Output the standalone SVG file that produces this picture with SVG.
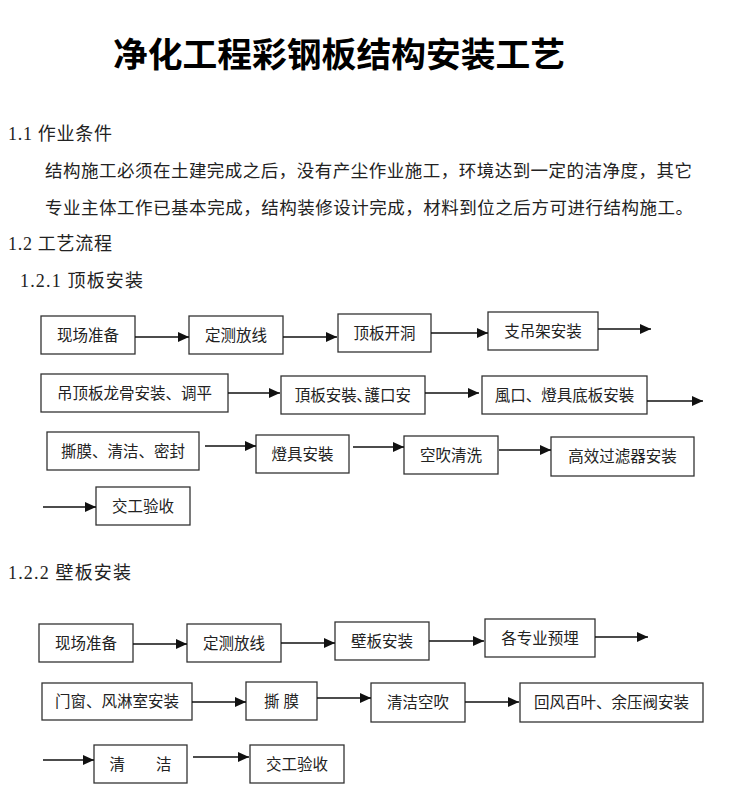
<svg xmlns="http://www.w3.org/2000/svg" width="750" height="804" viewBox="0 0 750 804">
<style>
.bg{fill:#fff}
.t{font-family:"Liberation Serif","Noto Sans CJK SC",serif;fill:#222}
.title{font-family:"Noto Sans CJK SC",sans-serif;font-weight:bold;font-size:34px;fill:#000}
.h{font-size:18px}
.p{font-size:17.5px}
.box rect{fill:#fff;stroke:#333;stroke-width:1.3}
.box text{font-family:"Liberation Serif","Noto Sans CJK SC",serif;font-size:15.5px;fill:#222;text-anchor:middle;white-space:pre}
.conn line{stroke:#111;stroke-width:1.5;marker-end:url(#ah)}
</style>
<defs>
<marker id="ah" markerUnits="userSpaceOnUse" markerWidth="12" markerHeight="10" refX="11" refY="5" orient="auto">
<path d="M0,0 L11,5 L0,10 Z" fill="#111"/>
</marker>
</defs>
<rect class="bg" x="0" y="0" width="750" height="804"/>
<text class="title" x="113" y="67" textLength="452" lengthAdjust="spacingAndGlyphs">净化工程彩钢板结构安装工艺</text>
<text class="t h" x="8" y="140" textLength="104" lengthAdjust="spacing">1.1 作业条件</text>
<text class="t p" x="45" y="177" textLength="647" lengthAdjust="spacing">结构施工必须在土建完成之后，没有产尘作业施工，环境达到一定的洁净度，其它</text>
<text class="t p" x="45" y="214" textLength="648" lengthAdjust="spacing">专业主体工作已基本完成，结构装修设计完成，材料到位之后方可进行结构施工。</text>
<text class="t h" x="8" y="250" textLength="104" lengthAdjust="spacing">1.2 工艺流程</text>
<text class="t h" x="20" y="287" textLength="123" lengthAdjust="spacing">1.2.1 顶板安装</text>
<text class="t h" x="8" y="579" textLength="123" lengthAdjust="spacing">1.2.2 壁板安装</text>

<g id="a1" class="box"><rect x="41" y="316" width="94" height="38"/><text x="88" y="340.5">现场准备</text></g>
<g id="a2" class="box"><rect x="189" y="316" width="94" height="38"/><text x="236" y="340.5">定测放线</text></g>
<g id="a3" class="box"><rect x="338" y="314" width="93" height="38"/><text x="384.5" y="338.5">顶板开洞</text></g>
<g id="a4" class="box"><rect x="488" y="312" width="110" height="38"/><text x="543" y="336.5">支吊架安装</text></g>
<g id="a5" class="box"><rect x="41" y="374" width="187" height="38"/><text x="134.5" y="398.5">吊顶板龙骨安装、调平</text></g>
<g id="a6" class="box"><rect x="281" y="376" width="144" height="38"/><text x="353" y="400.5">頂板安裝､護口安</text></g>
<g id="a7" class="box"><rect x="482" y="376" width="165" height="38"/><text x="564.5" y="400.5">風口、燈具底板安裝</text></g>
<g id="a8" class="box"><rect x="47" y="432" width="152" height="38"/><text x="123" y="456.5">撕膜、清洁、密封</text></g>
<g id="a9" class="box"><rect x="256" y="435" width="93" height="38"/><text x="302.5" y="459.5">燈具安裝</text></g>
<g id="a10" class="box"><rect x="404" y="436" width="94" height="38"/><text x="451" y="460.5">空吹清洗</text></g>
<g id="a11" class="box"><rect x="551" y="437" width="143" height="39"/><text x="622.5" y="462">高效过滤器安装</text></g>
<g id="a12" class="box"><rect x="96" y="487" width="94" height="38"/><text x="143" y="511.5">交工验收</text></g>

<g id="b1" class="box"><rect x="39" y="624" width="94" height="38"/><text x="86" y="648.5">现场准备</text></g>
<g id="b2" class="box"><rect x="187" y="624" width="94" height="38"/><text x="234" y="648.5">定测放线</text></g>
<g id="b3" class="box"><rect x="335" y="622" width="94" height="38"/><text x="382" y="646.5">壁板安装</text></g>
<g id="b4" class="box"><rect x="485" y="619" width="110" height="38"/><text x="540" y="643.5">各专业预埋</text></g>
<g id="b5" class="box"><rect x="42" y="683" width="150" height="37"/><text x="117" y="707">门窗、风淋室安装</text></g>
<g id="b6" class="box"><rect x="246" y="682" width="71" height="38"/><text x="281.5" y="706.5">撕 膜</text></g>
<g id="b7" class="box"><rect x="371" y="683" width="94" height="39"/><text x="418" y="708">清洁空吹</text></g>
<g id="b8" class="box"><rect x="520" y="683" width="183" height="39"/><text x="611.5" y="708">回风百叶、余压阀安装</text></g>
<g id="b9" class="box"><rect x="94" y="745" width="93" height="38"/><text x="140.5" y="769.5">清　　洁</text></g>
<g id="b10" class="box"><rect x="250" y="745" width="94" height="38"/><text x="297" y="769.5">交工验收</text></g>

<g id="connectors" class="conn">
<line x1="135" y1="337" x2="189" y2="337"/>
<line x1="283" y1="337" x2="337" y2="337"/>
<line x1="431" y1="333" x2="488" y2="333"/>
<line x1="598" y1="329" x2="651" y2="329"/>
<line x1="228" y1="393" x2="280" y2="393"/>
<line x1="425" y1="393" x2="479" y2="393"/>
<line x1="647" y1="401" x2="703" y2="401"/>
<line x1="205" y1="446" x2="256" y2="446"/>
<line x1="353" y1="447" x2="404" y2="447"/>
<line x1="499" y1="450" x2="551" y2="450"/>
<line x1="43" y1="507" x2="96" y2="507"/>
<line x1="133" y1="644" x2="187" y2="644"/>
<line x1="281" y1="643" x2="335" y2="643"/>
<line x1="429" y1="641" x2="484" y2="641"/>
<line x1="595" y1="637" x2="648" y2="637"/>
<line x1="192" y1="702" x2="246" y2="702"/>
<line x1="317" y1="698" x2="371" y2="698"/>
<line x1="465" y1="702" x2="519" y2="702"/>
<line x1="43" y1="760" x2="94" y2="760"/>
<line x1="193" y1="757" x2="249" y2="757"/>
</g>
</svg>
